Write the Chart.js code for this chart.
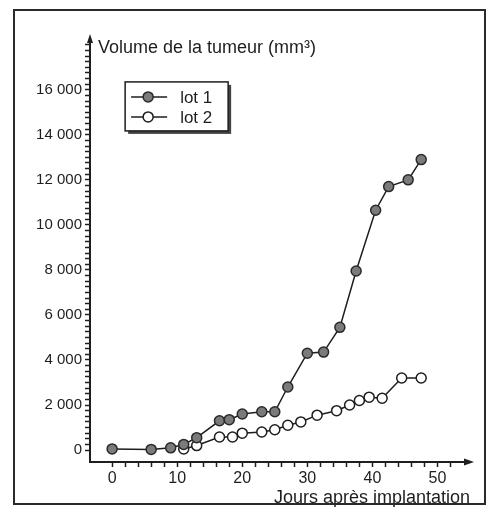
<!DOCTYPE html>
<html>
<head>
<meta charset="utf-8">
<script src="https://cdn.jsdelivr.net/npm/chart.js@4.4.1/dist/chart.umd.min.js"></script>
<style>
  html, body { margin: 0; padding: 0; background: #fff; }
  #wrap { position: relative; width: 489px; height: 513px; }
</style>
</head>
<body>
<div id="wrap"><canvas id="c" width="489" height="513"></canvas></div>
<script>
// ---- data ----
const seriesNames = ["lot 1", "lot 2"];
const lot1Days   = [0, 6, 9, 11, 13, 16.5, 18, 20, 23, 25, 27, 30, 32.5, 35, 37.5, 40.5, 42.5, 45.5, 47.5];
const lot1Volume = [50, 30, 100, 250, 550, 1300, 1350, 1600, 1700, 1700, 2800, 4300, 4350, 5450, 7950, 10650, 11700, 12000, 12900];
const lot2Days   = [11, 13, 16.5, 18.5, 20, 23, 25, 27, 29, 31.5, 34.5, 36.5, 38, 39.5, 41.5, 44.5, 47.5];
const lot2Volume = [50, 200, 580, 580, 750, 800, 900, 1100, 1250, 1550, 1750, 2000, 2200, 2350, 2300, 3200, 3200];
const xTickLabels = [0, 10, 20, 30, 40, 50];
const yTickLabels = [0, 2000, 4000, 6000, 8000, 10000, 12000, 14000, 16000];
const yTitle = "Volume de la tumeur (mm³)";
const xTitle = "Jours après implantation";

const FONT = "'Liberation Sans', Arial, sans-serif";
const INK = "#1e1e1e";

function toPoints(xs, ys) { return xs.map((x, i) => ({ x: x, y: ys[i] })); }
function fmt(v) { return String(v).replace(/\B(?=(\d{3})+(?!\d))/g, " "); }

const decor = {
  id: "decor",
  afterDraw(chart) {
    const ctx = chart.ctx;
    const xs = chart.scales.x, ys = chart.scales.y;
    const ca = chart.chartArea;
    ctx.save();
    // outer frame
    ctx.strokeStyle = "#2a2a2a";
    ctx.lineWidth = 2;
    ctx.strokeRect(14, 10, 471, 494);
    // arrows
    ctx.fillStyle = INK;
    ctx.beginPath();
    ctx.moveTo(ca.left, ca.top - 4);
    ctx.lineTo(ca.left - 3, ca.top + 5);
    ctx.lineTo(ca.left + 3, ca.top + 5);
    ctx.closePath(); ctx.fill();
    ctx.beginPath();
    ctx.moveTo(ca.right + 4, ca.bottom);
    ctx.lineTo(ca.right - 6, ca.bottom - 3.5);
    ctx.lineTo(ca.right - 6, ca.bottom + 3.5);
    ctx.closePath(); ctx.fill();
    // y title (horizontal, top of axis)
    ctx.font = "18px " + FONT;
    ctx.textBaseline = "middle";
    ctx.textAlign = "left";
    ctx.fillText(yTitle, ca.left + 8, ca.top + 10);

    // legend box
    const lx = xs.getPixelForValue(2), ly = ys.getPixelForValue(16350);
    const lw = 103, lh = 49;
    ctx.fillStyle = "#444";
    ctx.fillRect(lx + 3, ly + 3, lw, lh);
    ctx.fillStyle = "#fff";
    ctx.fillRect(lx, ly, lw, lh);
    ctx.strokeStyle = INK; ctx.lineWidth = 1.5;
    ctx.strokeRect(lx, ly, lw, lh);
    chart.data.datasets.forEach((ds, i) => {
      const cy = ly + 15 + i * 20;
      ctx.strokeStyle = ds.borderColor; ctx.lineWidth = 1.5;
      ctx.beginPath(); ctx.moveTo(lx + 6, cy); ctx.lineTo(lx + 42, cy); ctx.stroke();
      ctx.beginPath(); ctx.arc(lx + 23, cy, 5, 0, Math.PI * 2);
      ctx.fillStyle = ds.pointBackgroundColor; ctx.fill();
      ctx.strokeStyle = ds.pointBorderColor; ctx.stroke();
      ctx.fillStyle = INK;
      ctx.font = "17px " + FONT;
      ctx.textAlign = "left";
      ctx.fillText(ds.label, lx + 55, cy + 1);
    });
    ctx.restore();
  }
};

new Chart(document.getElementById("c"), {
  type: "scatter",
  data: {
    datasets: [
      {
        label: seriesNames[0],
        data: toPoints(lot1Days, lot1Volume),
        showLine: true,
        borderColor: INK, borderWidth: 1.5,
        pointBackgroundColor: "#7b7b7b", pointBorderColor: "#2a2a2a",
        pointBorderWidth: 1.5, pointRadius: 5, pointHoverRadius: 5
      },
      {
        label: seriesNames[1],
        data: toPoints(lot2Days, lot2Volume),
        showLine: true,
        borderColor: INK, borderWidth: 1.5,
        pointBackgroundColor: "#ffffff", pointBorderColor: "#1e1e1e",
        pointBorderWidth: 1.5, pointRadius: 5, pointHoverRadius: 5
      }
    ]
  },
  options: {
    responsive: false,
    animation: false,
    layout: { padding: { left: 0, right: 19, top: 38, bottom: 0 } },
    plugins: { legend: { display: false }, tooltip: { enabled: false }, title: { display: false } },
    scales: {
      x: {
        type: "linear", min: -3.4, max: 55,
        border: { display: true, color: INK, width: 2 },
        grid: { display: true, drawOnChartArea: false, tickLength: 5, color: INK, tickColor: INK, tickWidth: 1.5 },
        ticks: {
          stepSize: 2, autoSkip: false, maxRotation: 0, padding: 2,
          color: INK, font: { family: FONT, size: 16 },
          callback: (v) => xTickLabels.includes(v) ? String(v) : ""
        },
        afterBuildTicks: (s) => { s.ticks = s.ticks.filter(t => t.value >= -2 && t.value <= 54 && Number.isInteger(t.value) && t.value % 2 === 0); },
        afterFit: (s) => { s.height = 51; },
        title: {
          display: true, text: xTitle, align: "end",
          color: INK, font: { family: FONT, size: 18 }, padding: { top: 0, bottom: 4 }
        }
      },
      y: {
        type: "linear", min: -530, max: 18300,
        border: { display: true, color: INK, width: 2 },
        grid: { display: true, drawOnChartArea: false, tickLength: 5, color: INK, tickColor: INK, tickWidth: 1.5 },
        ticks: {
          stepSize: 250, autoSkip: false, padding: 3,
          color: INK, font: { family: FONT, size: 15 },
          callback: (v) => yTickLabels.includes(v) ? fmt(v) : ""
        },
        afterBuildTicks: (s) => { s.ticks = s.ticks.filter(t => t.value >= 0 && t.value <= 18000 && t.value % 250 === 0); },
        afterFit: (s) => { s.width = 90; }
      }
    }
  },
  plugins: [decor]
});
</script>
</body>
</html>
